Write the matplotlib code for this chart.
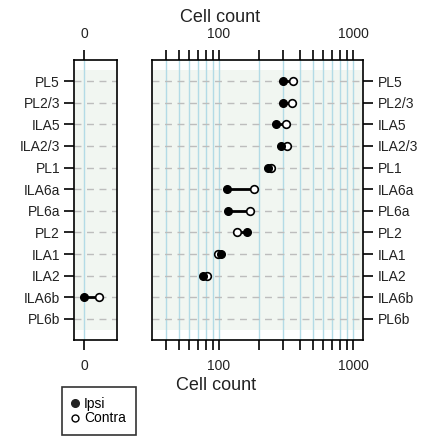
import numpy as np
import matplotlib
matplotlib.use("Agg")
from matplotlib import pyplot as plt
from matplotlib.lines import Line2D

plt.rcParams['font.family'] = ['Liberation Sans', 'DejaVu Sans']

# rows, top to bottom
regions = ["PL5", "PL2/3", "ILA5", "ILA2/3", "PL1", "ILA6a", "PL6a", "PL2", "ILA1", "ILA2", "ILA6b", "PL6b"]
ipsi = [302, 302, 266, 288, 233, 114, 116, 161, 103, 76, np.nan, np.nan]
contra = [358, 349, 316, 320, 243, 182, 170, 137, 98, 82, np.nan, np.nan]
# zero panel (counts that can't go on the log axis)
ipsi_zero = [np.nan] * 10 + [0, np.nan]
contra_zero = [np.nan] * 10 + [1.4, np.nan]

log_ticks = [40, 50, 60, 70, 80, 90, 100, 200, 300, 400, 500, 600, 700, 800, 900, 1000]

W, H = 435, 437
fig = plt.figure(figsize=(W / 100, H / 100), dpi=100)
ax0 = fig.add_axes([74 / W, 1 - 340 / H, 43.3 / W, 280 / H])
ax1 = fig.add_axes([151.7 / W, 1 - 340 / H, 211 / W, 280 / H])

ypos = np.arange(len(regions))
band = '#f1f6f1'
vline = '#b3dbe6'
hline = '#bdbdbd'
txt = '#222222'


def draw_panel(ax, xi, xc, vlines):
    ax.axhspan(-0.5, len(regions) - 0.5, color=band, zorder=0, lw=0)
    for v in vlines:
        ax.axvline(v, color=vline, lw=1, zorder=1)
    for y in ypos:
        ax.axhline(y, color=hline, lw=1, ls=(0, (5, 4)), zorder=1)
    for y, a, b in zip(ypos, xi, xc):
        if np.isnan(a) or np.isnan(b):
            continue
        ax.plot([a, b], [y, y], color='black', lw=2, zorder=2)
        ax.plot(b, y, 'o', mfc='white', mec='black', mew=1.2, ms=5.5, zorder=3)
        ax.plot(a, y, 'o', mfc='black', mec='black', ms=5.5, zorder=4)
    ax.set_ylim(len(regions) - 1 + 0.98, -0.98)
    ax.set_yticks(ypos)
    for s in ax.spines.values():
        s.set_linewidth(1.2)
    ax.tick_params(axis='both', direction='out', length=7, width=1.2,
                   labelsize=10, colors='black', labelcolor=txt)
    ax.tick_params(axis='x', which='both', top=True, labeltop=True,
                   bottom=True, labelbottom=True, length=7, width=1.2, pad=7)


draw_panel(ax0, ipsi_zero, contra_zero, [0])
ax0.set_xlim(-1, 3.2)
ax0.set_xticks([0])
ax0.set_xticklabels(["0"])
ax0.set_yticklabels(regions)
ax0.tick_params(axis='y', left=True, right=False, labelleft=True, labelright=False, pad=3)

draw_panel(ax1, ipsi, contra, log_ticks)
ax1.set_xscale('log')
ax1.set_xlim(31.5, 1181)
ax1.set_xticks([100, 1000])
ax1.set_xticklabels(["100", "1000"])
ax1.set_xticks([t for t in log_ticks if t not in (100, 1000)], minor=True)
ax1.xaxis.set_minor_formatter(matplotlib.ticker.NullFormatter())
ax1.set_yticklabels(regions)
ax1.tick_params(axis='y', left=False, right=True, labelleft=False, labelright=True, pad=4)
ax1.tick_params(axis='x', which='minor', top=True, bottom=True, length=7, width=1.2)

fig.text(220 / W, 1 - 17 / H, "Cell count", ha='center', va='center', fontsize=13, color=txt)
fig.text(216 / W, 1 - 385 / H, "Cell count", ha='center', va='center', fontsize=13, color=txt)

handles = [Line2D([], [], marker='o', ls='none', mfc='#222222', mec='#222222', ms=5.5, label='Ipsi'),
           Line2D([], [], marker='o', ls='none', mfc='white', mec='black', ms=5, label='Contra')]
leg = fig.legend(handles=handles, loc='upper left', bbox_to_anchor=(62 / W, 1 - 387 / H),
                 frameon=True, fancybox=False, edgecolor='black', fontsize=10,
                 handlelength=0.5, handletextpad=0.4, borderpad=0.7, labelspacing=0.05,
                 borderaxespad=0)
leg.get_frame().set_linewidth(1.2)

fig.savefig("out.png", dpi=100)
